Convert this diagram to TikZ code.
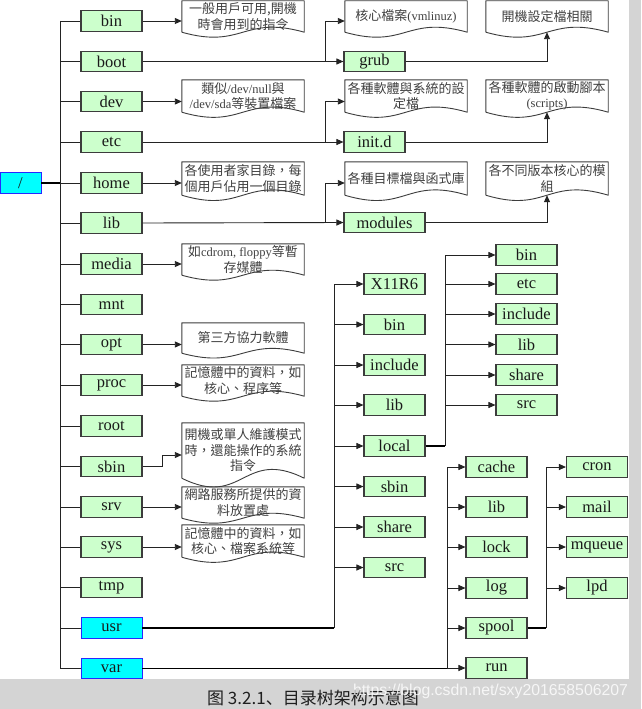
\documentclass[tikz,border=0pt]{standalone}
\usepackage{fontspec}
\setmainfont{Liberation Serif}
\newfontfamily\cjktc{Noto Sans CJK TC}
\newfontfamily\cjksc{Noto Sans CJK SC}
\newfontfamily\wmfont{Liberation Sans}
\usetikzlibrary{arrows.meta,calc}
\definecolor{boxgreen}{RGB}{204,255,204}
\definecolor{boxbd}{RGB}{60,60,60}
\definecolor{cyanfill}{RGB}{0,255,255}
\definecolor{bluebd}{RGB}{40,40,255}
\definecolor{bandgray}{RGB}{212,212,212}
\definecolor{doctext}{RGB}{64,64,64}
\definecolor{lc}{RGB}{35,35,35}
\newcommand\latn[1]{{\rmfamily\fontsize{12.5}{15.5}\selectfont #1}}
\tikzset{
  box/.style={draw=boxbd, fill=boxgreen, line width=1.1pt, minimum width=61pt,
    minimum height=20.5pt, inner sep=0pt, text=black!90,
    font=\fontsize{16.5}{18}\selectfont},
  cbox/.style={box, fill=cyanfill, draw=bluebd, line width=0.9pt},
  doc/.style={minimum width=122pt, inner sep=0pt, align=center,
    font=\cjktc\fontsize{13}{15.5}\selectfont, text=doctext},
  docline/.style={draw=boxbd, line width=0.9pt, line join=round},
  conn/.style={draw=lc, line width=0.9pt},
  thickconn/.style={draw=black, line width=1.7pt},
  arr/.style={conn, -{Triangle[length=7pt,width=6pt]}}
}
\begin{document}
\begin{tikzpicture}[x=1pt,y=-1pt]
\useasboundingbox (0,0) rectangle (641,709);
\fill[white] (0,0) rectangle (641,709);
\fill[bandgray] (629,0) rectangle (641,709);
\fill[bandgray] (0,679) rectangle (641,709);

% root
\node[cbox, minimum width=41pt] (slash) at (20.5,183) {/};

% main column
\foreach \nm/\yy in {bin/21,boot/61.5,dev/101.5,etc/142,home/183,lib/223,media/264,mnt/304.5,opt/344.5,proc/385,root/426,sbin/466.5,srv/507,sys/547,tmp/587.5}
  \node[box] (m\nm) at (111.5,\yy) {\nm};
\node[cbox] (musr) at (111.5,628) {usr};
\node[cbox] (mvar) at (111.5,668.5) {var};

% second-level boxes
\node[box] (grub) at (374.5,61.5) {grub};
\node[box] (initd) at (374.5,142) {init.d};
\node[box, minimum width=81pt] (modules) at (384.5,222.5) {modules};

% usr children
\foreach \nm/\yy in {X11R6/284,bin/324.5,include/365,lib/405,local/446,sbin/486.5,share/527,src/567.5}
  \node[box] (u\nm) at (394.5,\yy) {\nm};
% local children
\foreach \nm/\yy in {bin/255,etc/284,include/314,lib/344.5,share/375,src/405}
  \node[box] (l\nm) at (526.5,\yy) {\nm};
% var children
\foreach \nm/\yy in {cache/467,lib/507,lock/547,log/588,spool/628,run/668}
  \node[box] (v\nm) at (496.5,\yy) {\nm};
% spool children
\foreach \nm/\yy in {cron/467,mail/507,mqueue/547,lpd/588}
  \node[box] (s\nm) at (597,\yy) {\nm};

% documents, column A
\node[doc, minimum height=31pt] (bindoc) at (243,16.5) {一般用戶可用,開機\\時會用到的指令};
\node[doc, minimum height=32pt] (devdoc) at (243,96) {類似\latn{/dev/null}與\\\latn{/dev/sda}等裝置檔案};
\node[doc, minimum height=33pt] (homedoc) at (243,178.5) {各使用者家目錄，每\\個用戶佔用一個目錄};
\node[doc, minimum height=31pt] (mediadoc) at (243,259.5) {如\latn{cdrom, floppy}等暫\\存媒體};
\node[doc, minimum height=30pt] (optdoc) at (243,338) {第三方協力軟體};
\node[doc, minimum height=31pt] (procdoc) at (243,380.5) {記憶體中的資料，如\\核心、程序等};
\node[doc, minimum height=55pt] (sbindoc) at (243,450.5) {開機或單人維護模式\\時，還能操作的系統\\指令};
\node[doc, minimum height=31pt] (srvdoc) at (243,502.5) {網路服務所提供的資\\料放置處};
\node[doc, minimum height=32pt] (sysdoc) at (243,541) {記憶體中的資料，如\\核心、檔案系統等};
% column B
\node[doc, minimum height=31pt] (vmdoc) at (406,16.5) {核心檔案\latn{(vmlinuz)}};
\node[doc, minimum height=32pt] (etcdoc) at (406,96) {各種軟體與系統的設\\定檔};
\node[doc, minimum height=33pt] (libdoc) at (406,178.5) {各種目標檔與函式庫};
% column C
\node[doc, minimum height=31pt] (grubdoc) at (547,16.5) {開機設定檔相關};
\node[doc, minimum height=32pt] (initdoc) at (547,96) {各種軟體的啟動腳本\\\latn{(scripts)}};
\node[doc, minimum height=33pt] (moddoc) at (547,178.5) {各不同版本核心的模\\組};

\foreach \d in {bindoc,devdoc,homedoc,mediadoc,optdoc,procdoc,sbindoc,srvdoc,sysdoc,vmdoc,etcdoc,libdoc,grubdoc,initdoc,moddoc}
  \draw[docline] let \p1=(\d.north), \p2=(\d.south), \n1={0.55*(\y1-\y2)} in
    (\d.south west) -- (\d.north west) -- (\d.north east) -- (\d.south east)
    .. controls ({\x2},{\y2+\n1}) and ({\x2},{\y2-\n1}) .. (\d.south west);

% trunk
\coordinate (T) at (60,0);
\draw[conn] (mbin.west -| T) -- (mvar.west -| T);
\foreach \nm in {bin,boot,dev,etc,home,lib,media,mnt,opt,proc,root,sbin,srv,sys,tmp,usr,var}
  \draw[conn] (m\nm.west -| T) -- (m\nm.west);
\draw[thickconn] (slash.east) -- (slash.east -| T);

% arrows to documents
\foreach \nm in {bin,dev,home,media,opt,proc,srv,sys}
  \draw[arr] (m\nm.east) -- (m\nm.east -| \nm doc.west);
\coordinate (SB) at (162,455);
\draw[arr] (msbin.east) -| (SB) -- (SB -| sbindoc.west);

% boot / etc / lib branches
\coordinate (BX) at (325,0);
\draw[arr] (mboot.east) -- (grub.west);
\draw[arr] (mboot.east -| BX) |- (mbin.east -| vmdoc.west);
\draw[arr] (metc.east) -- (initd.west);
\draw[arr] (metc.east -| BX) |- (mdev.east -| etcdoc.west);
\draw[arr] (mlib.east) -- (modules.west);
\draw[arr] (mlib.east -| BX) |- (mhome.east -| libdoc.west);
\draw[arr] (grub.east) -| (grubdoc.south);
\draw[arr] (initd.east) -| (initdoc.south);
\draw[arr] (modules.east) -| (moddoc.south);

% usr
\coordinate (UX) at (334,0);
\draw[thickconn] (musr.east) -- (musr.east -| UX);
\draw[conn] (musr.east -| UX) -- (uX11R6.west -| UX);
\foreach \nm in {X11R6,bin,include,lib,local,sbin,share,src}
  \draw[arr] (u\nm.west -| UX) -- (u\nm.west);

% local
\coordinate (LX) at (445,0);
\draw[thickconn] (ulocal.east) -- (ulocal.east -| LX);
\draw[conn] (ulocal.east -| LX) -- (lbin.west -| LX);
\foreach \nm in {bin,etc,include,lib,share,src}
  \draw[arr] (l\nm.west -| LX) -- (l\nm.west);

% var
\coordinate (VX) at (447,0);
\draw[thickconn] (mvar.east) -- (mvar.east -| VX);
\draw[conn] (vrun.west -| VX) -- (vcache.west -| VX);
\foreach \nm in {cache,lib,lock,log,spool,run}
  \draw[arr] (v\nm.west -| VX) -- (v\nm.west);

% spool
\coordinate (SX) at (546,0);
\draw[thickconn] (vspool.east) -- (vspool.east -| SX);
\draw[conn] (vspool.east -| SX) -- (scron.west -| SX);
\foreach \nm in {cron,mail,mqueue,lpd}
  \draw[arr] (s\nm.west -| SX) -- (s\nm.west);

% caption and watermark
\node[anchor=base west, inner sep=0pt, text=black!88, font=\cjksc\fontsize{17}{17}\selectfont] (cap) at (207,704) {图 3.2.1、目录树架构示意图};
\node[anchor=base, inner sep=0pt, text=white, opacity=0.8, font=\wmfont\fontsize{15.8}{16}\selectfont] (wm) at (490.5,695) {https://blog.csdn.net/sxy201658506207};
\end{tikzpicture}
\end{document}
